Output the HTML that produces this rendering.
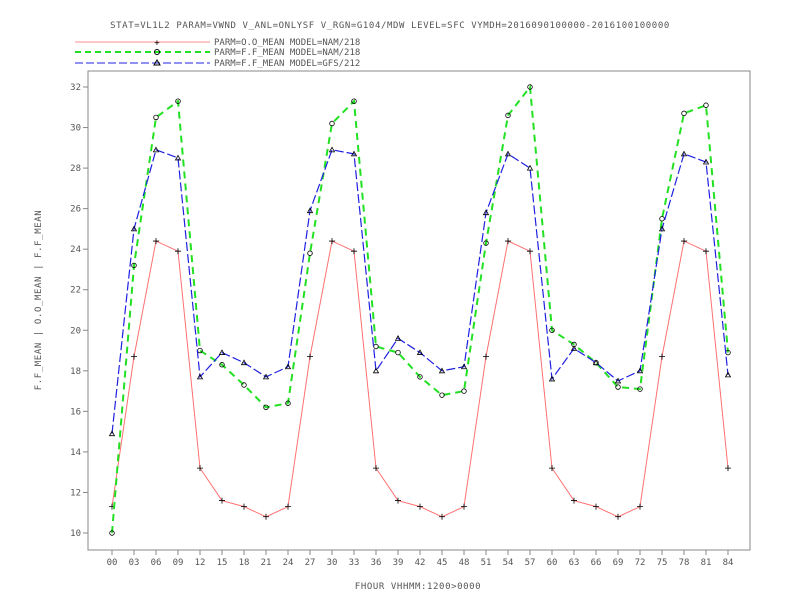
<!DOCTYPE html>
<html><head><meta charset="utf-8"><style>
body{margin:0;background:#fff}
svg{display:block;font-family:"DejaVu Sans Mono","Liberation Mono",monospace;}
text{fill:#555;font-size:9px}
</style></head><body>
<svg id="chart" width="792" height="612" xmlns="http://www.w3.org/2000/svg">
<text x="390" y="28" text-anchor="middle" letter-spacing="0.6">STAT=VL1L2 PARAM=VWND V_ANL=ONLYSF V_RGN=G104/MDW LEVEL=SFC VYMDH=2016090100000-2016100100000</text>
<g>
<line x1="75" y1="42" x2="210" y2="42" stroke="#ff9090" stroke-width="1"/>
<text x="214" y="45" font-size="8">PARM=O.O_MEAN MODEL=NAM/218</text>
<text x="157" y="45.5" text-anchor="middle" style="fill:#000" font-size="9">+</text>
<line x1="75" y1="52" x2="210" y2="52" stroke="#22e022" stroke-width="2" stroke-dasharray="6,4"/>
<circle cx="157" cy="52" r="2.5" fill="none" stroke="#000"/>
<text x="214" y="55" font-size="8">PARM=F.F_MEAN MODEL=NAM/218</text>
<line x1="75" y1="63" x2="210" y2="63" stroke="#2020e0" stroke-width="1" stroke-dasharray="8,3"/>
<path d="M154,65 L157,60 L160,65 Z" fill="none" stroke="#000"/>
<text x="214" y="66" font-size="8">PARM=F.F_MEAN MODEL=GFS/212</text>
</g>
<rect x="88" y="71" width="662" height="479" fill="none" stroke="#888"/>
<g id="axes"></g>
<g id="series"></g>
<text x="418" y="589" text-anchor="middle" letter-spacing="0.6">FHOUR VHHMM:1200&gt;0000</text>
<text transform="translate(41,300) rotate(-90)" text-anchor="middle" letter-spacing="0.6">F.F_MEAN | O.O_MEAN | F.F_MEAN</text>
</svg>
<script>
const categories=["00","03","06","09","12","15","18","21","24","27","30","33","36","39","42","45","48","51","54","57","60","63","66","69","72","75","78","81","84"];
const yTicks=[10,12,14,16,18,20,22,24,26,28,30,32];
const obsNam=[11.3,18.7,24.4,23.9,13.2,11.6,11.3,10.8,11.3,18.7,24.4,23.9,13.2,11.6,11.3,10.8,11.3,18.7,24.4,23.9,13.2,11.6,11.3,10.8,11.3,18.7,24.4,23.9,13.2];
const fcstNam=[10.0,23.2,30.5,31.3,19.0,18.3,17.3,16.2,16.4,23.8,30.2,31.3,19.2,18.9,17.7,16.8,17.0,24.3,30.6,32.0,20.0,19.3,18.4,17.2,17.1,25.5,30.7,31.1,18.9];
const fcstGfs=[14.9,25.0,28.9,28.5,17.7,18.9,18.4,17.7,18.2,25.9,28.9,28.7,18.0,19.6,18.9,18.0,18.2,25.8,28.7,28.0,17.6,19.1,18.4,17.5,18.0,25.0,28.7,28.3,17.8];
const NS="http://www.w3.org/2000/svg";
const x=i=>112+i*(728-112)/(categories.length-1);
const y=v=>533-(v-10)*(533-87)/22;
function mk(tag,attrs,parent){const e=document.createElementNS(NS,tag);for(const k in attrs)e.setAttribute(k,attrs[k]);parent.appendChild(e);return e;}
const ax=document.getElementById('axes');
yTicks.forEach(v=>{
 const l=mk('line',{x1:83,x2:88,y1:y(v),y2:y(v),stroke:'#888'},ax);
 
 
 const t=mk('text',{x:81,y:y(v)+3,'text-anchor':'end'},ax);t.textContent=v;
 
 
});
categories.forEach((c,i)=>{
 const l=mk('line',{x1:x(i),x2:x(i),y1:550,y2:555,stroke:'#888'},ax);
 
 
 const t=mk('text',{x:x(i),y:565,'text-anchor':'middle'},ax);t.textContent=c;
 
 
});
const sg=document.getElementById('series');
function line(data,color,w,dash,name,marker){
 const p=mk('polyline',{points:data.map((v,i)=>x(i)+','+y(v)).join(' '),fill:'none',stroke:color,'stroke-width':w,'stroke-dasharray':dash},sg);
 
 
 data.forEach((v,i)=>{
  let m;
  if(marker==='plus')m=mk('path',{d:`M${x(i)-3},${y(v)}h6M${x(i)},${y(v)-3}v6`,stroke:'#000','stroke-width':0.8},sg);
  else if(marker==='circle')m=mk('circle',{cx:x(i),cy:y(v),r:2.3,fill:'none',stroke:'#000','stroke-width':0.8},sg);
  else m=mk('path',{d:`M${x(i)-2.5},${y(v)+2} L${x(i)},${y(v)-2.5} L${x(i)+2.5},${y(v)+2}Z`,fill:'none',stroke:'#000','stroke-width':0.8},sg);
  
  
 });
}
line(obsNam,'#ff7070',1,'none','obs-nam218-line','plus');
line(fcstNam,'#22e022',2,'7,5','fcst-nam218-line','circle');
line(fcstGfs,'#2020e0',1.2,'9,3','fcst-gfs212-line','tri');
</script>
</body></html>
